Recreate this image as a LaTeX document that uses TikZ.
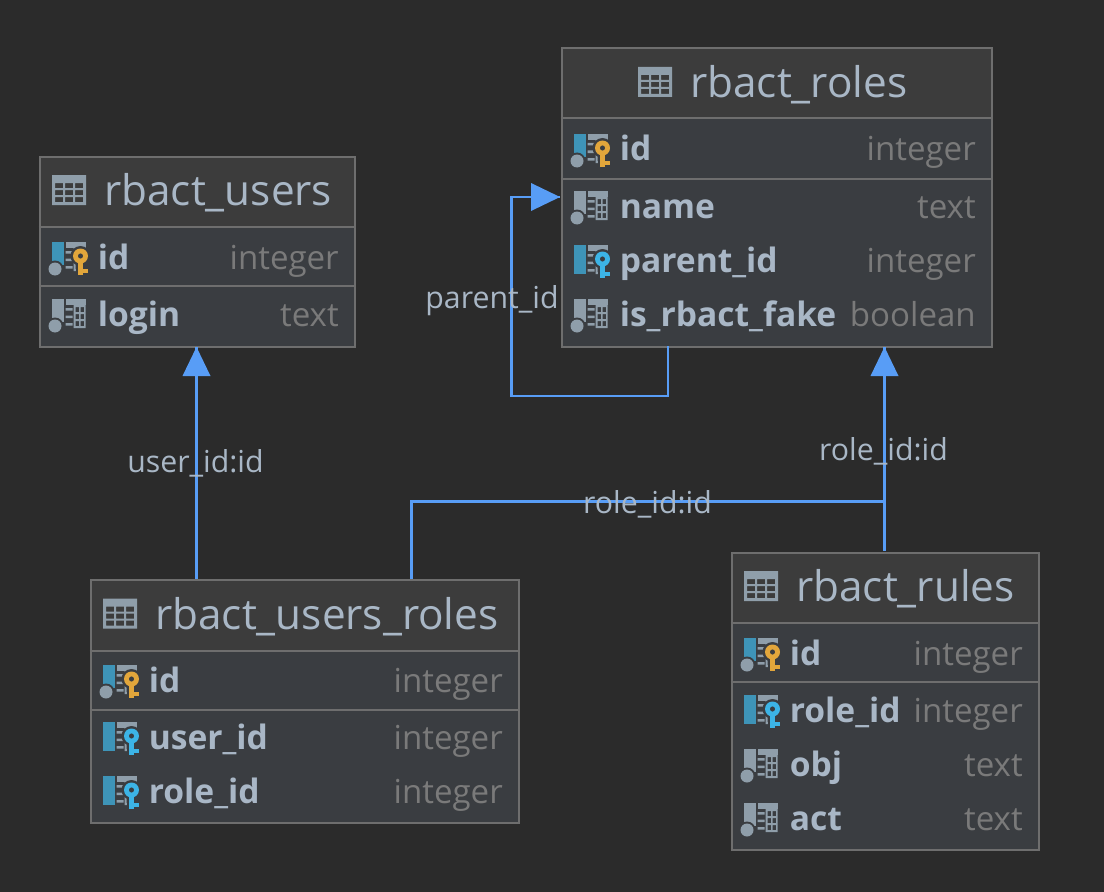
\documentclass[tikz,border=0pt]{standalone}
\usepackage{fontspec}
\setmainfont{Open Sans}
\definecolor{bgc}{HTML}{2B2B2B}
\definecolor{hdrc}{HTML}{3C3C3C}
\definecolor{bodyc}{HTML}{3A3D41}
\definecolor{edgec}{HTML}{6E6E6E}
\definecolor{txtc}{HTML}{A9B7C6}
\definecolor{typec}{HTML}{7A7A7A}
\definecolor{linkc}{HTML}{589DF6}
\definecolor{iconc}{HTML}{8F9EAA}
\definecolor{barc}{HTML}{3E94B8}
\definecolor{pkc}{HTML}{E2A63B}
\definecolor{fkc}{HTML}{3CB4E6}
\tikzset{
  tablebox/.style={draw=edgec,line width=1.5pt,inner sep=0pt,anchor=north west},
  titletext/.style={text=txtc,anchor=base west,inner sep=0pt,font=\fontsize{31.7pt}{34pt}\selectfont},
  fieldtext/.style={text=txtc,anchor=base west,inner sep=0pt,font=\fontsize{25.2pt}{28pt}\selectfont\bfseries},
  typetext/.style={text=typec,anchor=base east,inner sep=0pt,font=\fontsize{24.8pt}{28pt}\selectfont},
  linktext/.style={text=txtc,anchor=base,inner sep=0pt,font=\fontsize{22.7pt}{26pt}\selectfont},
  link/.style={draw=linkc,line width=1.7pt},
  linkhead/.style={fill=linkc,draw=none}
}
% \tbl{name}{x0}{y0}{x1}{y1}{header bottom}{separator}{title x}{title}
\newcommand{\tbl}[9]{%
  \fill[bodyc] (#2,#3) rectangle (#4,#5);
  \fill[hdrc] (#2,#3) rectangle (#4,#6);
  \draw[edgec,line width=1.5pt] (#2,#6) -- (#4,#6);
  \draw[edgec,line width=1.5pt] (#2,#7) -- (#4,#7);
  \pgfmathsetmacro{\boxw}{(#4-#2)*0.75}
  \pgfmathsetmacro{\boxh}{(#5-#3)*0.75}
  \node[tablebox,minimum width=\boxw pt,minimum height=\boxh pt] (#1) at (#2,#3) {};
  \pgfmathsetmacro{\cy}{(#3+#6)/2+1}
  \begin{scope}[shift={(#8-52,\cy-17)}]
    \fill[iconc,even odd rule] (0,0) rectangle (34,30)
      (3,8) rectangle (11,13) (13,8) rectangle (21,13) (23,8) rectangle (31,13)
      (3,15) rectangle (11,20) (13,15) rectangle (21,20) (23,15) rectangle (31,20)
      (3,22) rectangle (11,27) (13,22) rectangle (21,27) (23,22) rectangle (31,27);
  \end{scope}
  \node[titletext] (#1-title) at (#8,\cy+13.5) {#9};
}
\newcommand{\tablepart}{%
  \fill[iconc] (14,0) rectangle (34,6);
  \fill[iconc] (14,9) rectangle (21,11.5) (14,16.5) rectangle (21,19) (14,24) rectangle (21,26.5);
  \fill[iconc,even odd rule] (22,6) rectangle (34,29)
    (24,8) rectangle (27.5,13) (29,8) rectangle (32.5,13)
    (24,15) rectangle (27.5,20) (29,15) rectangle (32.5,20)
    (24,22) rectangle (27.5,27) (29,22) rectangle (32.5,27);
}
\newcommand{\dotpart}{%
  \fill[bodyc] (3.5,27) circle (8.5);
  \fill[iconc] (3.5,27) circle (6.5);
}
\newcommand{\keypart}[1]{%
  \fill[bodyc] (29,14) circle (10);
  \fill[bodyc] (24,20) rectangle (38,35);
  \fill[#1,even odd rule] (29,14) circle (7.5) (29,14) circle (2.7);
  \fill[#1] (26.5,20) rectangle (31.5,33);
  \fill[#1] (31,27) rectangle (36.5,31);
}
% \fieldrow{name}{text x}{row y}{kind: p,f,n}{field}{type}{right x}
\newcommand{\fieldrow}[7]{%
  \begin{scope}[shift={(#2-46,#3-17)}]
    \tablepart
    \if#4n
      \fill[iconc] (0,0) rectangle (12,23);
      \dotpart
    \fi
    \if#4p
      \fill[barc] (0,0) rectangle (12,23);
      \dotpart
      \keypart{pkc}
    \fi
    \if#4f
      \fill[barc] (0,0) rectangle (12,29);
      \keypart{fkc}
    \fi
  \end{scope}
  \node[fieldtext] (#1-field) at (#2,#3+10) {#5};
  \node[typetext] (#1-type) at (#7,#3+10) {#6};
}
\begin{document}
\begin{tikzpicture}[x=0.75pt,y=-0.75pt]
\fill[bgc] (0,0) rectangle (1104,892);
\useasboundingbox (0,0) rectangle (1104,892);

\coordinate (loopstart) at (668,346);
\coordinate (loopa) at (668,396);
\coordinate (loopb) at (511.5,396);
\coordinate (loopc) at (511.5,197);
\coordinate (looptip) at (560,197);
\coordinate (urrolestart) at (411.5,579);
\coordinate (urrolea) at (411.5,501.5);
\coordinate (urroleb) at (884.5,501.5);
\coordinate (rulestart) at (884.5,551);
\coordinate (roletip) at (884.5,347);
\coordinate (usertip) at (196.5,347);
\coordinate (userstart) at (196.5,579);

\begin{scope}[shift={(-1,-1)}]
\tbl{users}{39.5}{156.5}{354.5}{346.5}{227.5}{286.5}{105}{rbact\_users}
\fieldrow{users-id}{98.5}{260}{p}{id}{integer}{340}
\fieldrow{users-login}{98.5}{317}{n}{login}{text}{340}

\tbl{roles}{561.5}{48.5}{991.5}{346.5}{119.5}{179.5}{691}{rbact\_roles}
\fieldrow{roles-id}{620.5}{152}{p}{id}{integer}{977}
\fieldrow{roles-name}{620.5}{209}{n}{name}{text}{977}
\fieldrow{roles-parent}{620.5}{263}{f}{parent\_id}{integer}{977}
\fieldrow{roles-fake}{620.5}{317}{n}{is\_rbact\_fake}{boolean}{977}

\tbl{ur}{90.5}{579.5}{518.5}{822.5}{651.5}{710.5}{156}{rbact\_users\_roles}
\fieldrow{ur-id}{149.5}{683}{p}{id}{integer}{504}
\fieldrow{ur-user}{149.5}{740}{f}{user\_id}{integer}{504}
\fieldrow{ur-role}{149.5}{794}{f}{role\_id}{integer}{504}

\tbl{rules}{731.5}{552.5}{1038.5}{849.5}{623.5}{682.5}{797}{rbact\_rules}
\fieldrow{rules-id}{790.5}{656}{p}{id}{integer}{1024}
\fieldrow{rules-role}{790.5}{713}{f}{role\_id}{integer}{1024}
\fieldrow{rules-obj}{790.5}{767}{n}{obj}{text}{1024}
\fieldrow{rules-act}{790.5}{821}{n}{act}{text}{1024}
\end{scope}

\draw[link] (userstart) -- (usertip);
\fill[linkhead] (usertip) -- ++(14,29) -- ++(-28,0) -- cycle;
\draw[link] (rulestart) -- (roletip);
\fill[linkhead] (roletip) -- ++(14,29) -- ++(-28,0) -- cycle;
\draw[link] (urrolestart) -- (urrolea) -- (urroleb);
\draw[link] (loopstart) -- (loopa) -- (loopb) -- (loopc) -- (looptip);
\fill[linkhead] (looptip) -- ++(-29,-14) -- ++(0,28) -- cycle;

\node[linktext] (lbl-parent) at (492,308) {parent\_id};
\node[linktext] (lbl-user) at (195.5,472) {user\_id:id};
\node[linktext] (lbl-role) at (883.5,460) {role\_id:id};
\node[linktext] (lbl-urrole) at (647.5,513) {role\_id:id};
\end{tikzpicture}
\end{document}
